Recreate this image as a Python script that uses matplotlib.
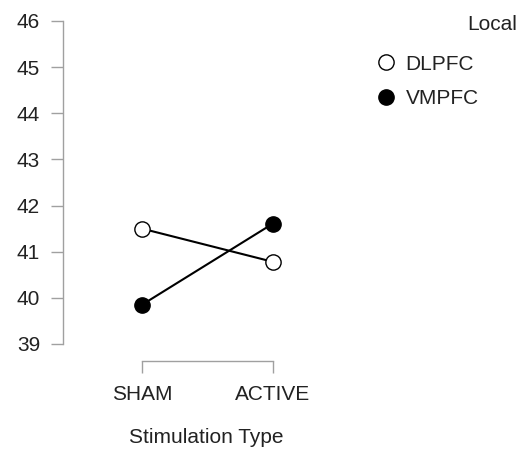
'''
Interaction plot of mean score by stimulation type and local
'''
import matplotlib
matplotlib.use('Agg')
import matplotlib.pyplot as plt
from matplotlib.lines import Line2D

plt.rcParams['font.family'] = ['Liberation Sans', 'DejaVu Sans']

# Data
stim_types = ['SHAM', 'ACTIVE']
dlpfc = [41.50, 40.78]
vmpfc = [39.85, 41.61]
y_ticks = [39, 40, 41, 42, 43, 44, 45, 46]

spine_grey = '#a0a0a0'
text_col = '#222222'
fsize = 15

fig = plt.figure(figsize=(5.19, 4.5), dpi=100)
ax = fig.add_axes([0.1214, 0.2356, 0.553, 0.7178])

x = list(range(len(stim_types)))

# Lines and markers
ax.plot(x, dlpfc, color='black', lw=1.5, marker='o', ms=11,
        mfc='white', mec='black', mew=1.0, zorder=3)
ax.plot(x, vmpfc, color='black', lw=1.5, marker='o', ms=11,
        mfc='black', mec='black', mew=1.0, zorder=3)

# Axes limits so that the categories sit inside the axes
ax.set_xlim(-0.603, 1.588)
ax.set_ylim(39, 46)

ax.set_xticks(x)
ax.set_xticklabels(stim_types)
ax.set_yticks(y_ticks)

# Spines
for side in ['top', 'right']:
    ax.spines[side].set_visible(False)
ax.spines['left'].set_bounds(39, 46)
ax.spines['bottom'].set_bounds(0, 1)
ax.spines['bottom'].set_position(('outward', 12.2))
for side in ['left', 'bottom']:
    ax.spines[side].set_color(spine_grey)
    ax.spines[side].set_linewidth(1.0)

ax.tick_params(axis='both', colors=spine_grey, length=8.5, width=1.0,
               labelsize=fsize, labelcolor=text_col)
ax.tick_params(axis='y', pad=8)
ax.tick_params(axis='x', pad=9)

ax.set_xlabel('Stimulation Type', fontsize=fsize, color=text_col, labelpad=17)

# Legend
handles = [
    Line2D([], [], ls='none', marker='o', ms=11, mfc='white', mec='black', mew=1.0),
    Line2D([], [], ls='none', marker='o', ms=11, mfc='black', mec='black', mew=1.0),
]
leg = fig.legend(handles, ['DLPFC', 'VMPFC'], loc='upper left',
                 bbox_to_anchor=(0.683, 0.92), frameon=False, fontsize=fsize,
                 handletextpad=0.35, labelspacing=0.75, handlelength=1.2)
for t in leg.get_texts():
    t.set_color(text_col)

fig.text(517 / 519, 1 - 25 / 450, 'Local', ha='right', va='center',
         fontsize=fsize, color=text_col)

fig.savefig('out.png', dpi=100)
